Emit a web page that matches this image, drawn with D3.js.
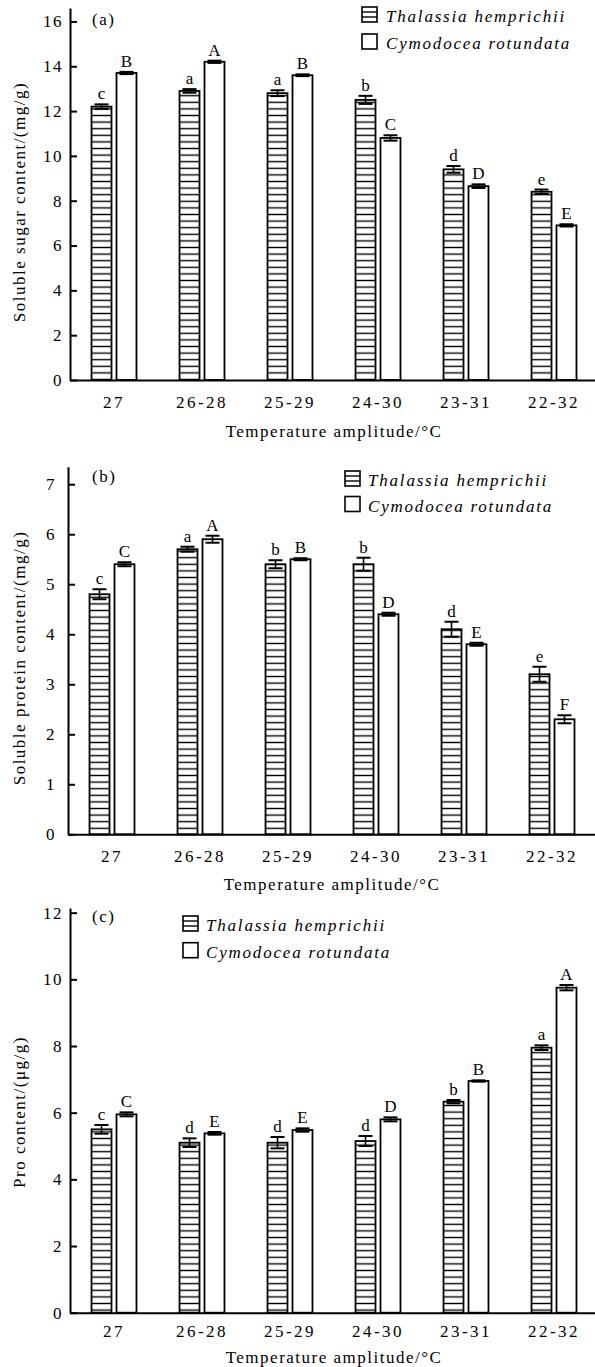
<!DOCTYPE html>
<html>
<head>
<meta charset="utf-8">
<style>
body { margin: 0; background: #fff; }
svg text { font-family: "Liberation Serif", "Times New Roman", serif; fill: #000; }
.axis path, .axis line { fill: none; stroke: #000; stroke-width: 2; }
.axis text { font-size: 17px; }
</style>
</head>
<body>
<script src="https://cdn.jsdelivr.net/npm/d3@7/dist/d3.min.js"></script>
<script>
// categories and series
const categories = ["27", "26-28", "25-29", "24-30", "23-31", "22-32"];
const series = ["Thalassia hemprichii", "Cymodocea rotundata"];

// (a) soluble sugar
const sugarThal = [12.2, 12.9, 12.8, 12.5, 9.4, 8.4];
const sugarThalErr = [0.1, 0.08, 0.13, 0.18, 0.15, 0.1];
const sugarCymo = [13.7, 14.2, 13.6, 10.8, 8.65, 6.9];
const sugarCymoErr = [0.05, 0.05, 0.04, 0.12, 0.08, 0.05];
const sugarThalSig = ["c", "a", "a", "b", "d", "e"];
const sugarCymoSig = ["B", "A", "B", "C", "D", "E"];

// (b) soluble protein
const proteinThal = [4.8, 5.7, 5.4, 5.4, 4.1, 3.2];
const proteinThalErr = [0.1, 0.05, 0.08, 0.13, 0.15, 0.15];
const proteinCymo = [5.4, 5.9, 5.5, 4.4, 3.8, 2.3];
const proteinCymoErr = [0.04, 0.07, 0.02, 0.03, 0.03, 0.08];
const proteinThalSig = ["c", "a", "b", "b", "d", "e"];
const proteinCymoSig = ["C", "A", "B", "D", "E", "F"];

// (c) Pro
const proThal = [5.5, 5.1, 5.1, 5.15, 6.33, 7.95];
const proThalErr = [0.13, 0.13, 0.17, 0.15, 0.05, 0.07];
const proCymo = [5.95, 5.38, 5.48, 5.8, 6.95, 9.75];
const proCymoErr = [0.06, 0.04, 0.05, 0.06, 0.02, 0.08];
const proThalSig = ["c", "d", "d", "d", "b", "a"];
const proCymoSig = ["C", "E", "E", "D", "B", "A"];

const W = 595, H = 1367;

const svg = d3.select("body").append("svg")
    .attr("width", W)
    .attr("height", H);

// horizontal hatch for Thalassia
const defs = svg.append("defs");
const pat = defs.append("pattern")
    .attr("id", "hatch")
    .attr("patternUnits", "userSpaceOnUse")
    .attr("width", 10)
    .attr("height", 6.6);
pat.append("rect").attr("width", 10).attr("height", 6.6).attr("fill", "#fff");
pat.append("line")
    .attr("x1", 0).attr("x2", 10)
    .attr("y1", 3.3).attr("y2", 3.3)
    .attr("stroke", "#000").attr("stroke-width", 1.4);

const panels = [
    {tag: "(a)", ylabel: "Soluble sugar content/(mg/g)", ymax: 16.6, ticks: d3.range(0, 17, 2),
     x0: 70, zero: 380, top: 8, labGap: 7, tickDy: 28, titleDy: 57, ylabY: 202,
     tagY: 25, legX: 362, legY: 7, legStep: 27, legTextX: 386,
     thal: sugarThal, thalErr: sugarThalErr, cymo: sugarCymo, cymoErr: sugarCymoErr,
     thalSig: sugarThalSig, cymoSig: sugarCymoSig},
    {tag: "(b)", ylabel: "Soluble protein content/(mg/g)", ymax: 7.35, ticks: d3.range(0, 8, 1),
     x0: 68, zero: 834.3, top: 466.7, labGap: 12, tickDy: 28, titleDy: 56, ylabY: 658,
     tagY: 482, legX: 345, legY: 471, legStep: 25.5, legTextX: 368,
     thal: proteinThal, thalErr: proteinThalErr, cymo: proteinCymo, cymoErr: proteinCymoErr,
     thalSig: proteinThalSig, cymoSig: proteinCymoSig},
    {tag: "(c)", ylabel: "Pro content/(\u03bcg/g)", ymax: 12.14, ticks: d3.range(0, 13, 2),
     x0: 70, zero: 1312.7, top: 908, labGap: 7, tickDy: 24, titleDy: 50, ylabY: 1112,
     tagY: 922, legX: 183, legY: 916, legStep: 26.7, legTextX: 206,
     thal: proThal, thalErr: proThalErr, cymo: proCymo, cymoErr: proCymoErr,
     thalSig: proThalSig, cymoSig: proCymoSig}
];

panels.forEach(p => drawPanel(p));

function drawPanel(p) {
    const g = svg.append("g");

    const x = d3.scaleBand()
        .domain(categories)
        .range([p.x0, p.x0 + 528])
        .paddingInner(0.489)
        .paddingOuter(0.2445);

    const xs = d3.scaleBand()
        .domain(series)
        .range([0, x.bandwidth()])
        .paddingInner(0.2);

    const y = d3.scaleLinear()
        .domain([0, p.ymax])
        .range([p.zero, p.top]);

    const rows = categories.map((c, i) => [
        {cat: c, s: series[0], v: p.thal[i], e: p.thalErr[i], sig: p.thalSig[i]},
        {cat: c, s: series[1], v: p.cymo[i], e: p.cymoErr[i], sig: p.cymoSig[i]}
    ]).flat();

    // bars
    g.selectAll("rect.bar").data(rows).enter()
        .append("rect")
        .attr("class", "bar")
        .attr("x", d => x(d.cat) + xs(d.s))
        .attr("y", d => y(d.v))
        .attr("width", xs.bandwidth())
        .attr("height", d => y(0) - y(d.v))
        .attr("fill", d => d.s === series[0] ? "url(#hatch)" : "#fff")
        .attr("stroke", "#000")
        .attr("stroke-width", 1.8);

    // error bars
    const cx = d => x(d.cat) + xs(d.s) + xs.bandwidth() / 2;
    const eb = g.selectAll("g.err").data(rows).enter().append("g").attr("class", "err");
    eb.append("line")
        .attr("x1", cx).attr("x2", cx)
        .attr("y1", d => y(d.v - d.e)).attr("y2", d => y(d.v + d.e))
        .attr("stroke", "#000").attr("stroke-width", 1.6);
    [d => d.v - d.e, d => d.v + d.e].forEach(f => {
        eb.append("line")
            .attr("x1", d => cx(d) - 7).attr("x2", d => cx(d) + 7)
            .attr("y1", d => y(f(d))).attr("y2", d => y(f(d)))
            .attr("stroke", "#000").attr("stroke-width", 2);
    });

    // significance letters
    g.selectAll("text.sig").data(rows).enter()
        .append("text")
        .attr("class", "sig")
        .attr("x", cx)
        .attr("y", d => y(d.v + d.e) - 5)
        .attr("text-anchor", "middle")
        .attr("font-size", 17)
        .text(d => d.sig);

    // axes
    const xAxis = g.append("g")
        .attr("class", "axis")
        .attr("transform", `translate(0,${p.zero})`)
        .call(d3.axisBottom(x).tickSize(0).tickPadding(0));
    xAxis.selectAll("text")
        .attr("dy", null)
        .attr("y", p.tickDy)
        .attr("letter-spacing", 2.5);

    const yAxis = g.append("g")
        .attr("class", "axis")
        .attr("transform", `translate(${p.x0},0)`)
        .call(d3.axisLeft(y).tickValues(p.ticks).tickSizeInner(-7).tickSizeOuter(0).tickPadding(p.labGap));
    yAxis.selectAll("text").attr("letter-spacing", 1.5);

    // axis titles
    g.append("text")
        .attr("x", p.x0 + 264)
        .attr("y", p.zero + p.titleDy)
        .attr("text-anchor", "middle")
        .attr("font-size", 17)
        .attr("letter-spacing", 1.5)
        .text("Temperature amplitude/\u00b0C");

    g.append("text")
        .attr("transform", `translate(25,${p.ylabY}) rotate(-90)`)
        .attr("text-anchor", "middle")
        .attr("font-size", 17)
        .attr("letter-spacing", 1.5)
        .text(p.ylabel);

    g.append("text")
        .attr("x", 92)
        .attr("y", p.tagY)
        .attr("font-size", 17)
        .attr("letter-spacing", 1.5)
        .text(p.tag);

    // legend
    const leg = g.selectAll("g.leg").data(series).enter()
        .append("g")
        .attr("class", "leg")
        .attr("transform", (d, i) => `translate(${p.legX},${p.legY + i * p.legStep})`);
    leg.append("rect")
        .attr("width", 15).attr("height", 15)
        .attr("fill", "#fff")
        .attr("stroke", "#000").attr("stroke-width", 1.6);
    leg.filter((d, i) => i === 0).selectAll("line")
        .data([5, 10]).enter()
        .append("line")
        .attr("x1", 0).attr("x2", 15)
        .attr("y1", d => d).attr("y2", d => d)
        .attr("stroke", "#000").attr("stroke-width", 1.4);
    leg.append("text")
        .attr("x", p.legTextX - p.legX)
        .attr("y", 15)
        .attr("font-size", 17)
        .attr("font-style", "italic")
        .attr("letter-spacing", 1.8)
        .text(d => d);
}
</script>
</body>
</html>
